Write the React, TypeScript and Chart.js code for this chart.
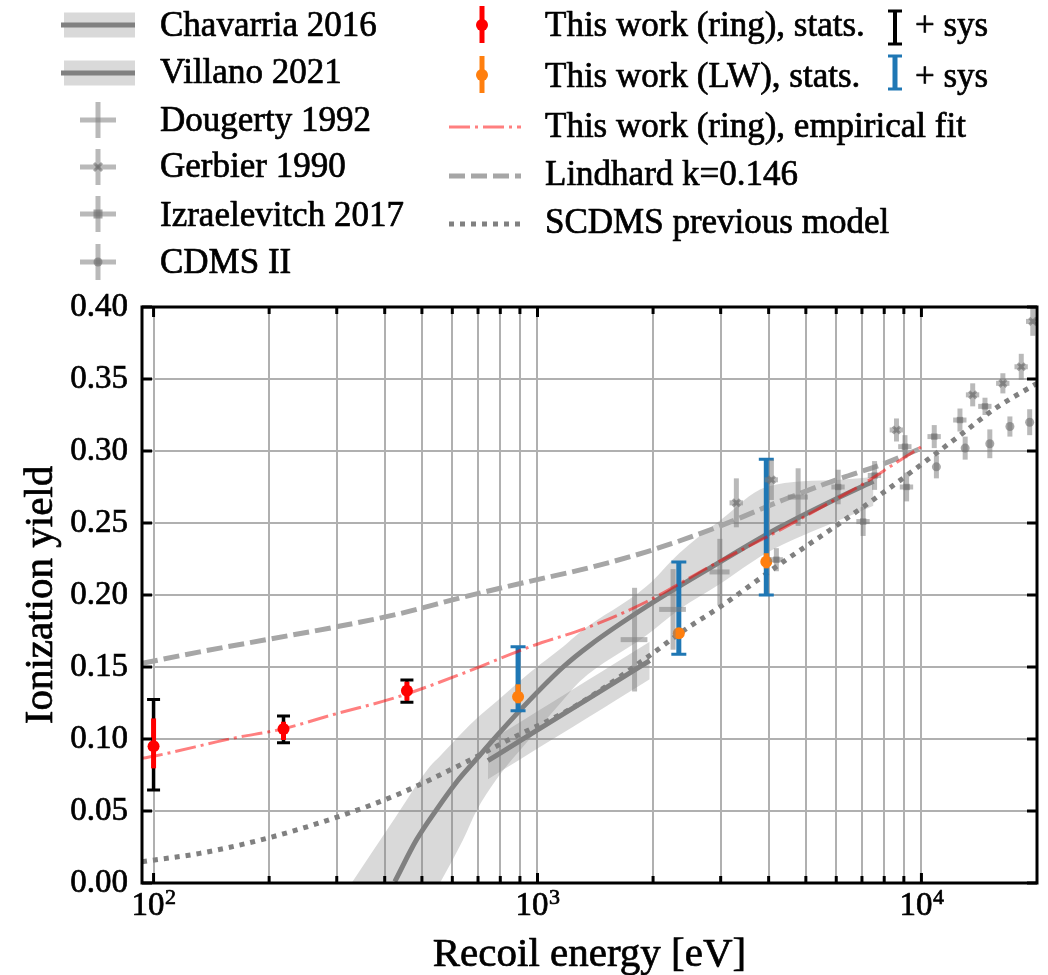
import { useEffect, useRef } from "react";
import { Chart, registerables } from "chart.js";

Chart.register(...registerables);

const FONT = "'Liberation Serif', 'Times New Roman', serif";
const TEXT_STROKE = 0.7;

// ---------------- axes ----------------
const X_MIN = 93.3;
const X_MAX = 20000;
const Y_MIN = 0;
const Y_MAX = 0.4;
const X_GRID = [100, 200, 300, 400, 500, 600, 700, 800, 900, 1000, 2000, 3000, 4000, 5000, 6000, 7000, 8000, 9000, 10000];
const X_DECADES = [100, 1000, 10000];
const Y_TICKS = [0, 0.05, 0.1, 0.15, 0.2, 0.25, 0.3, 0.35, 0.4];
const X_TITLE = "Recoil energy [eV]";
const Y_TITLE = "Ionization yield";

// ---------------- model curves ----------------
const chavE = [425, 484, 546, 615, 693, 782, 954, 1166, 1367, 1923, 2866, 4274, 6124, 7500];
const chavY = [0.001, 0.030, 0.051, 0.070, 0.086, 0.102, 0.127, 0.150, 0.165, 0.192, 0.220, 0.247, 0.268, 0.279];
const chavBandE = [328, 425, 525, 557, 640, 693, 782, 954, 1166, 1288, 1923, 2340, 3000, 3940, 6124, 7500];
const chavBandHi = [0.000, 0.045, 0.081, 0.088, 0.105, 0.114, 0.126, 0.146, 0.164, 0.174, 0.206, 0.229, 0.252, 0.275, 0.280, 0.282];
const chavBandLo = [-0.09, -0.05, -0.012, 0.000, 0.030, 0.050, 0.072, 0.100, 0.127, 0.140, 0.172, 0.190, 0.208, 0.229, 0.252, 0.262];

const villE = [743, 900, 1100, 1367, 1600, 1960];
const villY = [0.085, 0.0987, 0.1131, 0.1286, 0.1399, 0.1545];
const villBandHi = [0.098, 0.1117, 0.1261, 0.1416, 0.1529, 0.1675];
const villBandLo = [0.072, 0.0857, 0.1001, 0.1156, 0.1269, 0.1415];

const lindE = [93.3, 132, 197, 294, 437, 640, 954, 1367, 1923, 2866, 4362, 6000, 7943, 10000];
const lindY = [0.1525, 0.1605, 0.169, 0.1775, 0.187, 0.1985, 0.2095, 0.219, 0.230, 0.246, 0.266, 0.280, 0.291, 0.302];

const scdmsE = [93.3, 132, 197, 294, 437, 640, 864, 1166, 1367, 1960, 2393, 3000, 4362, 5768, 7943, 10510, 12830, 15660, 20000];
const scdmsY = [0.0148, 0.0206, 0.031, 0.0449, 0.062, 0.083, 0.101, 0.118, 0.129, 0.158, 0.175, 0.192, 0.223, 0.245, 0.271, 0.295, 0.3125, 0.330, 0.347];

const fitE = [93.3, 100, 161, 217, 294, 430, 640, 954, 1367, 1923, 2866, 4274, 6124, 7040, 8610, 10000];
const fitY = [0.0866, 0.088, 0.1005, 0.107, 0.117, 0.129, 0.1456, 0.164, 0.178, 0.1953, 0.221, 0.245, 0.268, 0.277, 0.292, 0.303];

// ---------------- this work ----------------
const ringE = [100, 218, 457];
const ringY = [0.095, 0.107, 0.1335];
const ringStatLo = [0.0796, 0.0993, 0.1266];
const ringStatHi = [0.1143, 0.112, 0.1398];
const ringSysLo = [0.0646, 0.0974, 0.1255];
const ringSysHi = [0.1275, 0.116, 0.141];

const lwE = [890, 2334, 3944];
const lwY = [0.1293, 0.1734, 0.2231];
const lwStatLo = [0.1248, 0.170, 0.2185];
const lwStatHi = [0.138, 0.177, 0.229];
const lwSysLo = [0.1196, 0.1588, 0.200];
const lwSysHi = [0.164, 0.223, 0.2942];

// ---------------- literature ----------------
const dougE = [1790, 2255, 2985, 4774];
const dougY = [0.169, 0.190, 0.216, 0.268];
const dougErr = [0.036, 0.028, 0.023, 0.020];
const dougXFrac = [0.08, 0.08, 0.06, 0.06];

const gerbE = [3296, 4066, 8610, 13600, 16300, 18200, 19500];
const gerbY = [0.264, 0.280, 0.3146, 0.339, 0.347, 0.3585, 0.390];
const gerbErr = [0.017, 0.014, 0.008, 0.008, 0.007, 0.009, 0.010];
const gerbXFrac = [0.04, 0.04, 0.04, 0.04, 0.04, 0.04, 0.04];

const izrE = [4190, 6069, 7050, 7550, 9060, 9150, 10800, 12600, 14640];
const izrY = [0.2245, 0.275, 0.251, 0.283, 0.303, 0.275, 0.310, 0.3215, 0.331];
const izrErr = [0.008, 0.012, 0.010, 0.010, 0.008, 0.010, 0.008, 0.008, 0.006];
const izrXFrac = [0.04, 0.04, 0.04, 0.04, 0.04, 0.04, 0.04, 0.04, 0.04];

const cdmsE = [10940, 13000, 15070, 17000, 19140];
const cdmsY = [0.289, 0.302, 0.305, 0.317, 0.320];
const cdmsErr = [0.008, 0.008, 0.010, 0.007, 0.009];

// ---------------- legend ----------------
const LEFT_LABELS = ["Chavarria 2016", "Villano 2021", "Dougerty 1992", "Gerbier 1990", "Izraelevitch 2017", "CDMS II"];
const RIGHT_LABELS = ["This work (ring), stats.", "This work (LW), stats.", "This work (ring), empirical fit", "Lindhard k=0.146", "SCDMS previous model"];
const SYS_LABEL = "+ sys";

// ---------------- styles ----------------
const BAND_FILL = "rgba(128,128,128,0.3)";
const CURVE_COLOR = "#808080";
const LIND_COLOR = "#a6a6a6";
const SCDMS_COLOR = "#808080";
const FIT_COLOR = "rgba(255,0,0,0.5)";
const LIT_COLOR = "rgba(128,128,128,0.55)";
const LIT_MARK = "rgba(110,110,110,0.6)";
const RED = "#ff0000";
const ORANGE = "#ff7f0e";
const BLUE = "#1f77b4";
const LIND_DASH = [16, 6];
const SCDMS_DASH = [5, 6];
const FIT_DASH = [21, 5, 3, 5];

const toXY = (xs: number[], ys: number[]) => xs.map((x, i) => ({ x, y: ys[i] }));

function lineDs(label: string, xs: number[], ys: number[], color: string, width: number, dash: number[], order: number) {
  return {
    label,
    data: toXY(xs, ys),
    showLine: true,
    borderColor: color,
    backgroundColor: color,
    borderWidth: width,
    borderDash: dash,
    borderCapStyle: "butt",
    pointRadius: 0,
    pointHoverRadius: 0,
    fill: false,
    cubicInterpolationMode: "monotone",
    order,
    clip: 0,
  };
}

function bandDs(label: string, xs: number[], ys: number[], fill: any, order: number) {
  return {
    label,
    data: toXY(xs, ys),
    showLine: true,
    borderColor: "rgba(0,0,0,0)",
    borderWidth: 0,
    backgroundColor: BAND_FILL,
    pointRadius: 0,
    pointHoverRadius: 0,
    fill,
    cubicInterpolationMode: "monotone",
    order,
    clip: 0,
  };
}

function pointDs(label: string, xs: number[], ys: number[], style: any, eb: any, order: number) {
  return {
    label,
    data: toXY(xs, ys),
    showLine: false,
    pointHoverRadius: 0,
    order,
    clip: 0,
    eb,
    ...style,
  };
}

const errorBarPlugin = {
  id: "errbars",
  beforeDatasetDraw(chart: any, args: any) {
    const ds: any = chart.data.datasets[args.index];
    const eb = ds && ds.eb;
    if (!eb) return;
    const { ctx, chartArea: a } = chart;
    const xs = chart.scales.x;
    const ys = chart.scales.y;
    ctx.save();
    ctx.beginPath();
    ctx.rect(a.left, a.top, a.right - a.left, a.bottom - a.top);
    ctx.clip();
    ctx.strokeStyle = eb.color;
    ctx.lineCap = "butt";
    ds.data.forEach((p: any, i: number) => {
      const px = xs.getPixelForValue(p.x);
      const py = ys.getPixelForValue(p.y);
      const lo = ys.getPixelForValue(eb.lo[i]);
      const hi = ys.getPixelForValue(eb.hi[i]);
      ctx.lineWidth = eb.width;
      ctx.beginPath();
      ctx.moveTo(px, lo);
      ctx.lineTo(px, hi);
      ctx.stroke();
      if (eb.cap) {
        ctx.lineWidth = eb.capWidth;
        ctx.beginPath();
        ctx.moveTo(px - eb.cap / 2, lo);
        ctx.lineTo(px + eb.cap / 2, lo);
        ctx.moveTo(px - eb.cap / 2, hi);
        ctx.lineTo(px + eb.cap / 2, hi);
        ctx.stroke();
      }
      if (eb.xfrac) {
        const f = eb.xfrac[i];
        ctx.lineWidth = eb.width;
        ctx.beginPath();
        ctx.moveTo(xs.getPixelForValue(p.x * (1 - f)), py);
        ctx.lineTo(xs.getPixelForValue(p.x * (1 + f)), py);
        ctx.stroke();
      }
    });
    ctx.restore();
  },
};

function seg(ctx: CanvasRenderingContext2D, x1: number, y1: number, x2: number, y2: number) {
  ctx.beginPath();
  ctx.moveTo(x1, y1);
  ctx.lineTo(x2, y2);
  ctx.stroke();
}

function text(ctx: CanvasRenderingContext2D, t: string, x: number, y: number) {
  ctx.save();
  ctx.strokeStyle = ctx.fillStyle as string;
  ctx.lineWidth = TEXT_STROKE;
  ctx.lineJoin = "round";
  ctx.setLineDash([]);
  ctx.strokeText(t, x, y);
  ctx.restore();
  ctx.fillText(t, x, y);
}

function drawLegend(ctx: CanvasRenderingContext2D) {
  ctx.save();
  ctx.lineCap = "butt";
  // ---- left column
  const leftC = [25, 73, 120, 167, 214, 262];
  const leftBase = [36, 83, 131, 177, 226, 273];
  for (const i of [0, 1]) {
    const y = leftC[i];
    ctx.fillStyle = BAND_FILL;
    ctx.fillRect(64, y - 12.5, 71, 25);
    ctx.strokeStyle = CURVE_COLOR;
    ctx.lineWidth = 5;
    seg(ctx, 61, y, 135, y);
  }
  for (const i of [2, 3, 4, 5]) {
    const y = leftC[i];
    const x = 98;
    ctx.strokeStyle = LIT_COLOR;
    ctx.lineWidth = 5;
    seg(ctx, x, y - 18, x, y + 18);
    seg(ctx, x - 18, y, x + 18, y);
    ctx.fillStyle = LIT_MARK;
    ctx.strokeStyle = LIT_MARK;
    if (i === 3) {
      ctx.lineWidth = 3;
      seg(ctx, x - 4, y - 4, x + 4, y + 4);
      seg(ctx, x - 4, y + 4, x + 4, y - 4);
    } else if (i === 4) {
      ctx.fillRect(x - 4.5, y - 4.5, 9, 9);
    } else if (i === 5) {
      ctx.beginPath();
      ctx.arc(x, y, 4.5, 0, Math.PI * 2);
      ctx.fill();
    }
  }
  ctx.fillStyle = "#000";
  ctx.font = `35px ${FONT}`;
  ctx.textAlign = "left";
  ctx.textBaseline = "alphabetic";
  LEFT_LABELS.forEach((t, i) => text(ctx, t, 160, leftBase[i]));

  // ---- right column
  const rightC = [25, 75, 127, 176, 224];
  const rightBase = [36, 87, 137, 185, 233];
  const statIcon = (y: number, color: string) => {
    ctx.strokeStyle = color;
    ctx.lineWidth = 5;
    seg(ctx, 482, y - 19, 482, y + 18);
    ctx.fillStyle = color;
    ctx.beginPath();
    ctx.arc(482, y, 6, 0, Math.PI * 2);
    ctx.fill();
  };
  statIcon(rightC[0], RED);
  statIcon(rightC[1], ORANGE);
  const sysIcon = (y: number, color: string, w: number) => {
    ctx.strokeStyle = color;
    ctx.lineWidth = w;
    seg(ctx, 895, y - 16, 895, y + 17);
    ctx.lineWidth = 3;
    seg(ctx, 888, y - 16, 902, y - 16);
    seg(ctx, 888, y + 17, 902, y + 17);
  };
  sysIcon(rightC[0] + 2, "#000", 4);
  sysIcon(rightC[1] - 3, BLUE, 5);
  ctx.strokeStyle = FIT_COLOR;
  ctx.lineWidth = 3;
  ctx.setLineDash(FIT_DASH);
  seg(ctx, 449, rightC[2], 521, rightC[2]);
  ctx.strokeStyle = LIND_COLOR;
  ctx.lineWidth = 5;
  ctx.setLineDash(LIND_DASH);
  seg(ctx, 449, rightC[3], 521, rightC[3]);
  ctx.strokeStyle = SCDMS_COLOR;
  ctx.lineWidth = 5;
  ctx.setLineDash(SCDMS_DASH);
  seg(ctx, 449, rightC[4], 521, rightC[4]);
  ctx.setLineDash([]);
  ctx.fillStyle = "#000";
  RIGHT_LABELS.forEach((t, i) => text(ctx, t, 545, rightBase[i]));
  text(ctx, SYS_LABEL, 915, rightBase[0]);
  text(ctx, SYS_LABEL, 915, rightBase[1]);
  ctx.restore();
}

const framePlugin = {
  id: "frame",
  afterDraw(chart: any) {
    const { ctx, chartArea: a } = chart;
    const xs = chart.scales.x;
    const ys = chart.scales.y;
    ctx.save();
    ctx.strokeStyle = "#000";
    ctx.lineWidth = 3;
    ctx.setLineDash([]);
    ctx.strokeRect(a.left, a.top, a.right - a.left, a.bottom - a.top);
    ctx.lineWidth = 3;
    ctx.lineCap = "butt";
    for (const v of X_GRID) {
      const x = xs.getPixelForValue(v);
      const len = X_DECADES.includes(v) ? 10 : 7;
      seg(ctx, x, a.bottom, x, a.bottom - len);
      seg(ctx, x, a.top, x, a.top + len);
    }
    for (const v of Y_TICKS) {
      const y = ys.getPixelForValue(v);
      seg(ctx, a.left, y, a.left + 10, y);
      seg(ctx, a.right, y, a.right - 10, y);
    }
    ctx.fillStyle = "#000";
    ctx.textBaseline = "alphabetic";
    ctx.textAlign = "left";
    for (const v of X_DECADES) {
      const x = xs.getPixelForValue(v);
      const exp = String(Math.round(Math.log10(v)));
      ctx.font = `33px ${FONT}`;
      const w1 = ctx.measureText("10").width;
      ctx.font = `22px ${FONT}`;
      const w2 = ctx.measureText(exp).width;
      const start = x - (w1 + w2) / 2;
      ctx.font = `33px ${FONT}`;
      text(ctx, "10", start, 915);
      ctx.font = `22px ${FONT}`;
      text(ctx, exp, start + w1 + 0.5, 904);
    }
    ctx.font = `41px ${FONT}`;
    ctx.textAlign = "center";
    text(ctx, X_TITLE, (a.left + a.right) / 2, 966);
    ctx.save();
    ctx.translate(52, (a.top + a.bottom) / 2);
    ctx.rotate(-Math.PI / 2);
    text(ctx, Y_TITLE, 0, 0);
    ctx.restore();
    drawLegend(ctx);
    ctx.restore();
  },
};

function buildConfig(): any {
  const datasets: any[] = [
    bandDs("Chavarria band hi", chavBandE, chavBandHi, "+1", 30),
    bandDs("Chavarria band lo", chavBandE, chavBandLo, false, 29),
    bandDs("Villano band hi", villE, villBandHi, "+1", 28),
    bandDs("Villano band lo", villE, villBandLo, false, 27),
    lineDs("Chavarria 2016", chavE, chavY, CURVE_COLOR, 5, [], 26),
    lineDs("Villano 2021", villE, villY, CURVE_COLOR, 5, [], 25),
    lineDs("Lindhard k=0.146", lindE, lindY, LIND_COLOR, 5, LIND_DASH, 24),
    lineDs("SCDMS previous model", scdmsE, scdmsY, SCDMS_COLOR, 5, SCDMS_DASH, 23),
    pointDs("ring sys", ringE, ringY, { pointRadius: 0 }, { lo: ringSysLo, hi: ringSysHi, color: "#000", width: 3.5, cap: 13, capWidth: 3 }, 22),
    pointDs("This work (ring), stats.", ringE, ringY, { pointRadius: 6, pointStyle: "circle", backgroundColor: RED, borderWidth: 0 }, { lo: ringStatLo, hi: ringStatHi, color: RED, width: 5 }, 21),
    pointDs("LW sys", lwE, lwY, { pointRadius: 0 }, { lo: lwSysLo, hi: lwSysHi, color: BLUE, width: 5, cap: 15, capWidth: 3 }, 20),
    pointDs("This work (LW), stats.", lwE, lwY, { pointRadius: 6, pointStyle: "circle", backgroundColor: ORANGE, borderWidth: 0 }, { lo: lwStatLo, hi: lwStatHi, color: ORANGE, width: 5 }, 19),
    pointDs("Dougerty 1992", dougE, dougY, { pointRadius: 0 }, { lo: dougY.map((y, i) => y - dougErr[i]), hi: dougY.map((y, i) => y + dougErr[i]), xfrac: dougXFrac, color: LIT_COLOR, width: 5 }, 18),
    pointDs("Gerbier 1990", gerbE, gerbY, { pointRadius: 5, pointStyle: "crossRot", borderColor: LIT_MARK, backgroundColor: LIT_MARK, borderWidth: 3 }, { lo: gerbY.map((y, i) => y - gerbErr[i]), hi: gerbY.map((y, i) => y + gerbErr[i]), xfrac: gerbXFrac, color: LIT_COLOR, width: 5 }, 17),
    pointDs("Izraelevitch 2017", izrE, izrY, { pointRadius: 4.5, pointStyle: "rect", backgroundColor: LIT_MARK, borderWidth: 0 }, { lo: izrY.map((y, i) => y - izrErr[i]), hi: izrY.map((y, i) => y + izrErr[i]), xfrac: izrXFrac, color: LIT_COLOR, width: 5 }, 16),
    pointDs("CDMS II", cdmsE, cdmsY, { pointRadius: 4.5, pointStyle: "circle", backgroundColor: LIT_MARK, borderWidth: 0 }, { lo: cdmsY.map((y, i) => y - cdmsErr[i]), hi: cdmsY.map((y, i) => y + cdmsErr[i]), color: LIT_COLOR, width: 5 }, 15),
    lineDs("This work (ring), empirical fit", fitE, fitY, FIT_COLOR, 3, FIT_DASH, 1),
  ];
  return {
    type: "scatter",
    data: { datasets },
    options: {
      responsive: false,
      animation: false,
      events: [],
      devicePixelRatio: 1,
      layout: { padding: { left: 0, top: 307, right: 11, bottom: 0 } },
      plugins: { legend: { display: false }, tooltip: { enabled: false }, title: { display: false } },
      scales: {
        x: {
          type: "logarithmic",
          position: "bottom",
          min: X_MIN,
          max: X_MAX,
          afterBuildTicks: (scale: any) => {
            scale.ticks = X_GRID.map((v) => ({ value: v, major: X_DECADES.includes(v) }));
          },
          afterFit: (scale: any) => {
            scale.height = 92;
          },
          ticks: { display: false, callback: () => "" },
          grid: { color: "#b0b0b0", lineWidth: 2, drawTicks: false },
          border: { display: false },
          title: { display: false },
        },
        y: {
          type: "linear",
          position: "left",
          min: Y_MIN,
          max: Y_MAX,
          afterBuildTicks: (scale: any) => {
            scale.ticks = Y_TICKS.map((v) => ({ value: v }));
          },
          afterFit: (scale: any) => {
            scale.width = 142;
          },
          ticks: {
            display: true,
            padding: 14,
            color: "#000",
            textStrokeColor: "#000",
            textStrokeWidth: TEXT_STROKE,
            font: { family: FONT, size: 33 },
            callback: (v: any) => Number(v).toFixed(2),
          },
          grid: { color: "#b0b0b0", lineWidth: 2, drawTicks: false },
          border: { display: false },
          title: { display: false },
        },
      },
    },
    plugins: [errorBarPlugin, framePlugin],
  };
}

export default function App() {
  const ref = useRef<HTMLCanvasElement>(null);
  useEffect(() => {
    document.body.style.margin = "0";
    if (!ref.current) return;
    const chart = new Chart(ref.current, buildConfig());
    let alive = true;
    const fonts: any = (document as any).fonts;
    if (fonts && fonts.load) {
      Promise.all([fonts.load(`35px ${FONT}`), fonts.load(`41px ${FONT}`)]).then(() => {
        if (alive) chart.update();
      }).catch(() => {});
    }
    return () => {
      alive = false;
      chart.destroy();
    };
  }, []);
  return (
    <canvas
      ref={ref}
      width={1048}
      height={975}
      style={{ display: "block", width: "1048px", height: "975px" }}
    />
  );
}
